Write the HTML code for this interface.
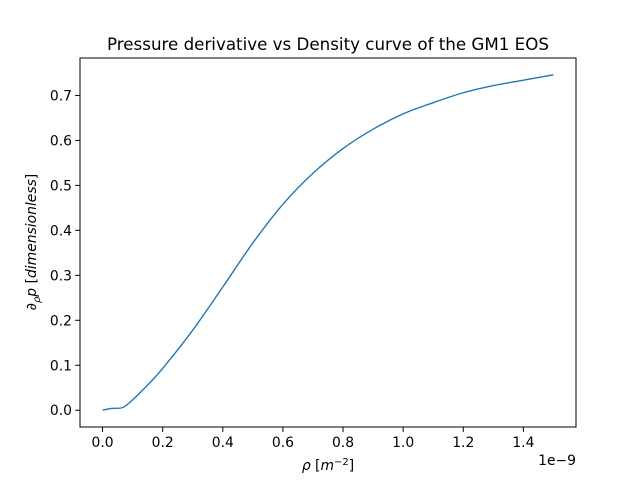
<!DOCTYPE html>
<html><head><meta charset="utf-8"><style>
body{margin:0;background:#fff;width:640px;height:480px;overflow:hidden;position:relative}
text{font-family:"DejaVu Sans","Liberation Sans",sans-serif;fill:#000}
</style></head><body>
<svg id="chart" width="640" height="480" xmlns="http://www.w3.org/2000/svg" style="position:absolute;left:0;top:0">
<rect width="640" height="480" fill="#fff"/>
<g id="plot"></g>
<text x="328" y="50" text-anchor="middle" font-size="16.7">Pressure derivative vs Density curve of the GM1 EOS</text>
<text x="328" y="470" text-anchor="middle" font-size="13.9"><tspan font-style="italic">ρ</tspan> [<tspan font-style="italic">m</tspan><tspan dy="-5" font-size="10">−2</tspan><tspan dy="5">]</tspan></text>
<text x="576" y="465" text-anchor="end" font-size="13.9">1e−9</text>
<text transform="translate(36,242) rotate(-90)" text-anchor="middle" font-size="13.9">∂<tspan font-style="italic" dy="4" font-size="10">ρ</tspan><tspan font-style="italic" dy="-4">p</tspan> [<tspan font-style="italic">dimensionless</tspan>]</text>
</svg>
<script>
const xVals=[0,0.03,0.067,0.1,0.15,0.2,0.3,0.4,0.5,0.6,0.7,0.8,0.9,1.0,1.1,1.2,1.3,1.4,1.5];
const yVals=[0,0.004,0.006,0.023,0.056,0.093,0.178,0.274,0.372,0.458,0.527,0.582,0.625,0.659,0.684,0.706,0.722,0.734,0.746];
const xTicks=[0,0.2,0.4,0.6,0.8,1.0,1.2,1.4];
const yTicks=[0,0.1,0.2,0.3,0.4,0.5,0.6,0.7];
const L=80,R=576,T=58,B=427;
const xmin=-0.075,xmax=1.575,ymin=-0.0373,ymax=0.7833;
const sx=v=>L+(v-xmin)/(xmax-xmin)*(R-L);
const sy=v=>B-(v-ymin)/(ymax-ymin)*(B-T);
const NS='http://www.w3.org/2000/svg';
const g=document.getElementById('plot');
function mk(t,a,txt){const e=document.createElementNS(NS,t);for(const k in a)e.setAttribute(k,a[k]);if(txt!=null)e.textContent=txt;g.appendChild(e);return e;}
const P=xVals.map((x,i)=>[sx(x),sy(yVals[i])]);
let d='M'+P[0][0]+','+P[0][1];
for(let i=0;i<P.length-1;i++){
  const p0=P[Math.max(0,i-1)],p1=P[i],p2=P[i+1],p3=P[Math.min(P.length-1,i+2)];
  const c1=[p1[0]+(p2[0]-p0[0])/6,p1[1]+(p2[1]-p0[1])/6];
  const c2=[p2[0]-(p3[0]-p1[0])/6,p2[1]-(p3[1]-p1[1])/6];
  d+=' C'+c1+' '+c2+' '+p2;
}
const line=mk('path',{d:d,fill:'none',stroke:'#1f77b4','stroke-width':1.4});


const frame=mk('rect',{x:L,y:T,width:R-L,height:B-T,fill:'none',stroke:'#000','stroke-width':1});


xTicks.forEach(v=>{const x=sx(v);
const t=mk('line',{x1:x,x2:x,y1:B,y2:B+4.9,stroke:'#000','stroke-width':1});


const l=mk('text',{x:x,y:B+20,'text-anchor':'middle','font-size':13.9},v.toFixed(1));

});
yTicks.forEach(v=>{const y=sy(v);
const t=mk('line',{x1:L-4.9,x2:L,y1:y,y2:y,stroke:'#000','stroke-width':1});


const l=mk('text',{x:L-8,y:y+5,'text-anchor':'end','font-size':13.9},v.toFixed(1));

});
</script>
</body></html>
